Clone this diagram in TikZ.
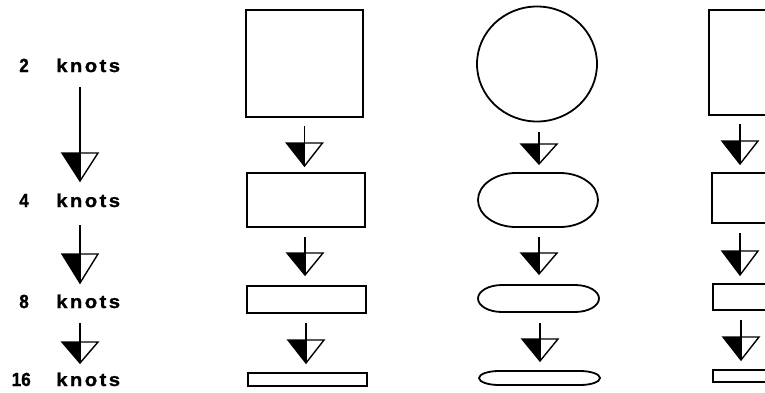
\documentclass[tikz,border=0pt]{standalone}
\usepackage{fontspec}
\setmainfont{Liberation Sans}
\newfontfamily\labfont{Liberation Sans}[LetterSpace=13, FakeStretch=1.1, FakeBold=1.2]
\newfontfamily\numfont{Liberation Sans}[FakeStretch=0.9, FakeBold=1.2]
\usetikzlibrary{shapes.geometric}
\tikzset{
  outl/.style={draw, line width=1.8pt, inner sep=0pt},
  ovl/.style={line width=1.8pt},
  stemline/.style={line width=1.1pt},
  triline/.style={line width=1.4pt, line join=miter},
  lab/.style={inner sep=0pt},
  num/.style={inner sep=0pt},
}
\newcommand\harrow[5]{%
  \coordinate (#1s) at (#2,#3);
  \coordinate (#1t) at (#2,#5);
  \draw[stemline] (#1s) -- (#1t);
  \fill (#1t) -- ++(0,{#4-#5}) -- ++(-18,0) -- cycle;
  \draw[triline] (#1t) -- ++(-18,{#4-#5}) -- ++(36,0) -- cycle;
}
% oval: name, x1, y1, x2, y2, rx
\newcommand\myoval[6]{%
  \coordinate (#1) at ({(#2+#4)/2},{(#3+#5)/2});
  \draw[ovl] ({#2+#6},#3) -- ({#4-#6},#3)
    arc[start angle=-90, end angle=90, x radius=#6, y radius={(#5-#3)/2}]
    -- ({#2+#6},#5)
    arc[start angle=90, end angle=270, x radius=#6, y radius={(#5-#3)/2}]
    -- cycle;
}
\newcommand\knots{{\labfont\bfseries\fontsize{18.5}{20}\selectfont knots}}
\newcommand\nb[1]{{\numfont\bfseries\fontsize{19}{20}\selectfont #1}}
\begin{document}
\begin{tikzpicture}[x=1pt,y=-1pt]
\clip (0,0) rectangle (765,392);
\fill[white] (0,0) rectangle (765,392);
% labels
\node[num, anchor=base east] (n1) at (29,72) {\nb{2}};
\node[lab, anchor=base west] (k1) at (56,72) {\knots};
\node[num, anchor=base east] (n2) at (29,207) {\nb{4}};
\node[lab, anchor=base west] (k2) at (56,207) {\knots};
\node[num, anchor=base east] (n3) at (29,308) {\nb{8}};
\node[lab, anchor=base west] (k3) at (56,308) {\knots};
\node[num, anchor=base east] (n4) at (31,386) {\nb{16}};
\node[lab, anchor=base west] (k4) at (56,386) {\knots};
% left arrows
\harrow{la1}{80}{87}{153}{181}
\harrow{la2}{80}{225}{254}{283}
\harrow{la3}{80}{323}{342}{363}
% column 1: squares
\node[outl, minimum width=117pt, minimum height=107pt] (s1) at (304.5,63.5) {};
\node[outl, minimum width=118pt, minimum height=54pt] (s2) at (306,200) {};
\node[outl, minimum width=119pt, minimum height=27pt] (s3) at (306.5,299.5) {};
\node[outl, minimum width=119pt, minimum height=13pt] (s4) at (307.5,379.5) {};
\harrow{sa1}{304.5}{126}{143}{166}
\harrow{sa2}{305}{237}{253}{275}
\harrow{sa3}{306}{323}{340}{363}
% column 2: circles
\node[outl, ellipse, minimum width=120pt, minimum height=115pt] (c1) at (537,64) {};
\myoval{c2}{478}{173}{598}{227}{38}
\myoval{c3}{478}{285}{599}{312}{24}
\myoval{c4}{479}{371}{600}{385}{20}
\harrow{ca1}{539}{132}{144}{164}
\harrow{ca2}{539}{237}{253}{274}
\harrow{ca3}{540}{323}{339}{361}
% column 3: cut at the edge
\node[outl, minimum width=118pt, minimum height=105pt] (r1) at (768,62.5) {};
\node[outl, minimum width=118pt, minimum height=50pt] (r2) at (771,198) {};
\node[outl, minimum width=118pt, minimum height=26pt] (r3) at (772,297) {};
\node[outl, minimum width=118pt, minimum height=12pt] (r4) at (772,376) {};
\harrow{ra1}{740}{124}{141}{164}
\harrow{ra2}{740}{233}{251}{275}
\harrow{ra3}{741}{320}{337}{360}
\end{tikzpicture}
\end{document}
